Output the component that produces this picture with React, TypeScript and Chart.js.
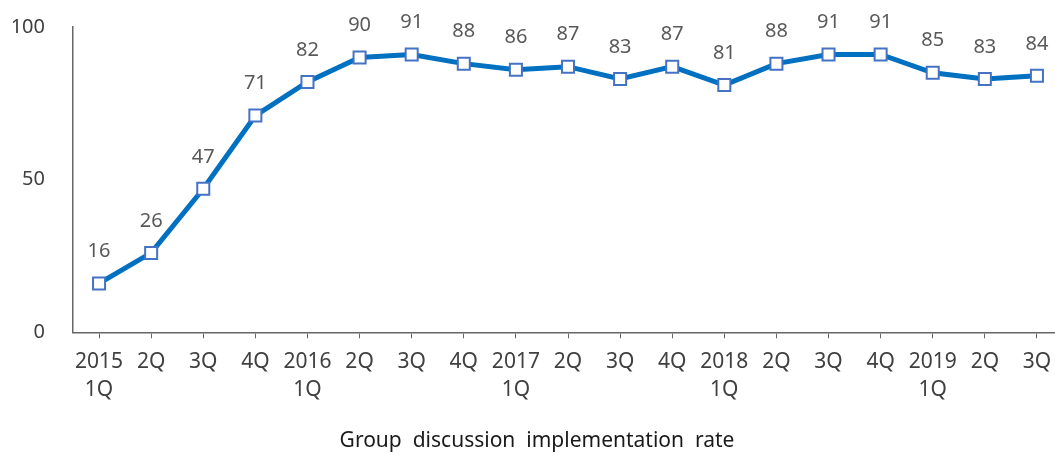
import React, { useEffect, useRef } from "react";
import { Chart, registerables } from "chart.js";

Chart.register(...registerables);

// Quarter labels (year shown on first quarter, second line)
const quarterLabels: (string | string[])[] = [
  ["2015", "1Q"], "2Q", "3Q", "4Q",
  ["2016", "1Q"], "2Q", "3Q", "4Q",
  ["2017", "1Q"], "2Q", "3Q", "4Q",
  ["2018", "1Q"], "2Q", "3Q", "4Q",
  ["2019", "1Q"], "2Q", "3Q",
];

// Implementation rate per quarter (%)
const implementationRate = [16, 26, 47, 71, 82, 90, 91, 88, 86, 87, 83, 87, 81, 88, 91, 91, 85, 83, 84];

const yTicks = [0, 50, 100];
const chartTitle = "Group  discussion  implementation  rate";

const FONT = "'Noto Sans', 'Open Sans', sans-serif";

// Draws each value above its marker
const valueLabels = {
  id: "valueLabels",
  afterDatasetsDraw(chart: any) {
    const { ctx } = chart;
    const meta = chart.getDatasetMeta(0);
    ctx.save();
    ctx.font = `20px ${FONT}`;
    ctx.fillStyle = "#595959";
    ctx.textAlign = "center";
    ctx.textBaseline = "middle";
    meta.data.forEach((pt: any, i: number) => {
      ctx.fillText(String(implementationRate[i]), pt.x, pt.y - 32);
    });
    ctx.restore();
  },
};

export default function App() {
  const canvasRef = useRef<HTMLCanvasElement | null>(null);

  useEffect(() => {
    if (!canvasRef.current) return;
    const chart = new Chart(canvasRef.current, {
      type: "line",
      data: {
        labels: quarterLabels,
        datasets: [
          {
            data: implementationRate,
            borderColor: "#0070C0",
            borderWidth: 5,
            pointStyle: "rect",
            pointRadius: 8.5,
            pointHoverRadius: 8.5,
            pointBorderWidth: 2,
            pointBorderColor: "#4472C4",
            pointBackgroundColor: "#ffffff",
            tension: 0,
          },
        ],
      },
      options: {
        animation: false,
        responsive: false,
        layout: { padding: { left: 11, right: 12, top: 27, bottom: 0 } },
        plugins: {
          legend: { display: false },
          tooltip: { enabled: false },
          title: {
            display: true,
            position: "bottom",
            text: chartTitle,
            color: "#1a1a1a",
            font: { family: FONT, size: 21, weight: "normal", lineHeight: 1.2 },
            padding: { top: 24, bottom: 1.5 },
          },
        },
        scales: {
          x: {
            offset: true,
            afterFit: (scale: any) => {
              scale.height = 72;
            },
            grid: {
              offset: false,
              drawOnChartArea: false,
              drawTicks: true,
              tickLength: 6,
              color: "#666666",
            },
            border: { display: true, color: "#666666", width: 1.5 },
            ticks: {
              autoSkip: false,
              maxRotation: 0,
              padding: 10,
              color: "#404040",
              font: { family: FONT, size: 21, lineHeight: 1.333 },
            },
          },
          y: {
            min: 0,
            max: 100,
            afterBuildTicks: (scale: any) => {
              scale.ticks = yTicks.map((v) => ({ value: v }));
            },
            afterFit: (scale: any) => {
              scale.width = 62;
              scale.paddingTop = 0;
              scale.paddingBottom = 0;
            },
            grid: { display: false, drawTicks: false },
            border: { display: true, color: "#666666", width: 1.5 },
            ticks: {
              padding: 28,
              color: "#404040",
              font: { family: FONT, size: 20 },
            },
          },
        },
      },
      plugins: [valueLabels],
    });
    return () => chart.destroy();
  }, []);

  return (
    <div
      style={{
        position: "fixed",
        left: 0,
        top: 0,
        width: 1055,
        height: 455,
        overflow: "hidden",
        background: "#ffffff",
      }}
    >
      <canvas ref={canvasRef} width={1075} height={455} style={{ display: "block" }} />
    </div>
  );
}
